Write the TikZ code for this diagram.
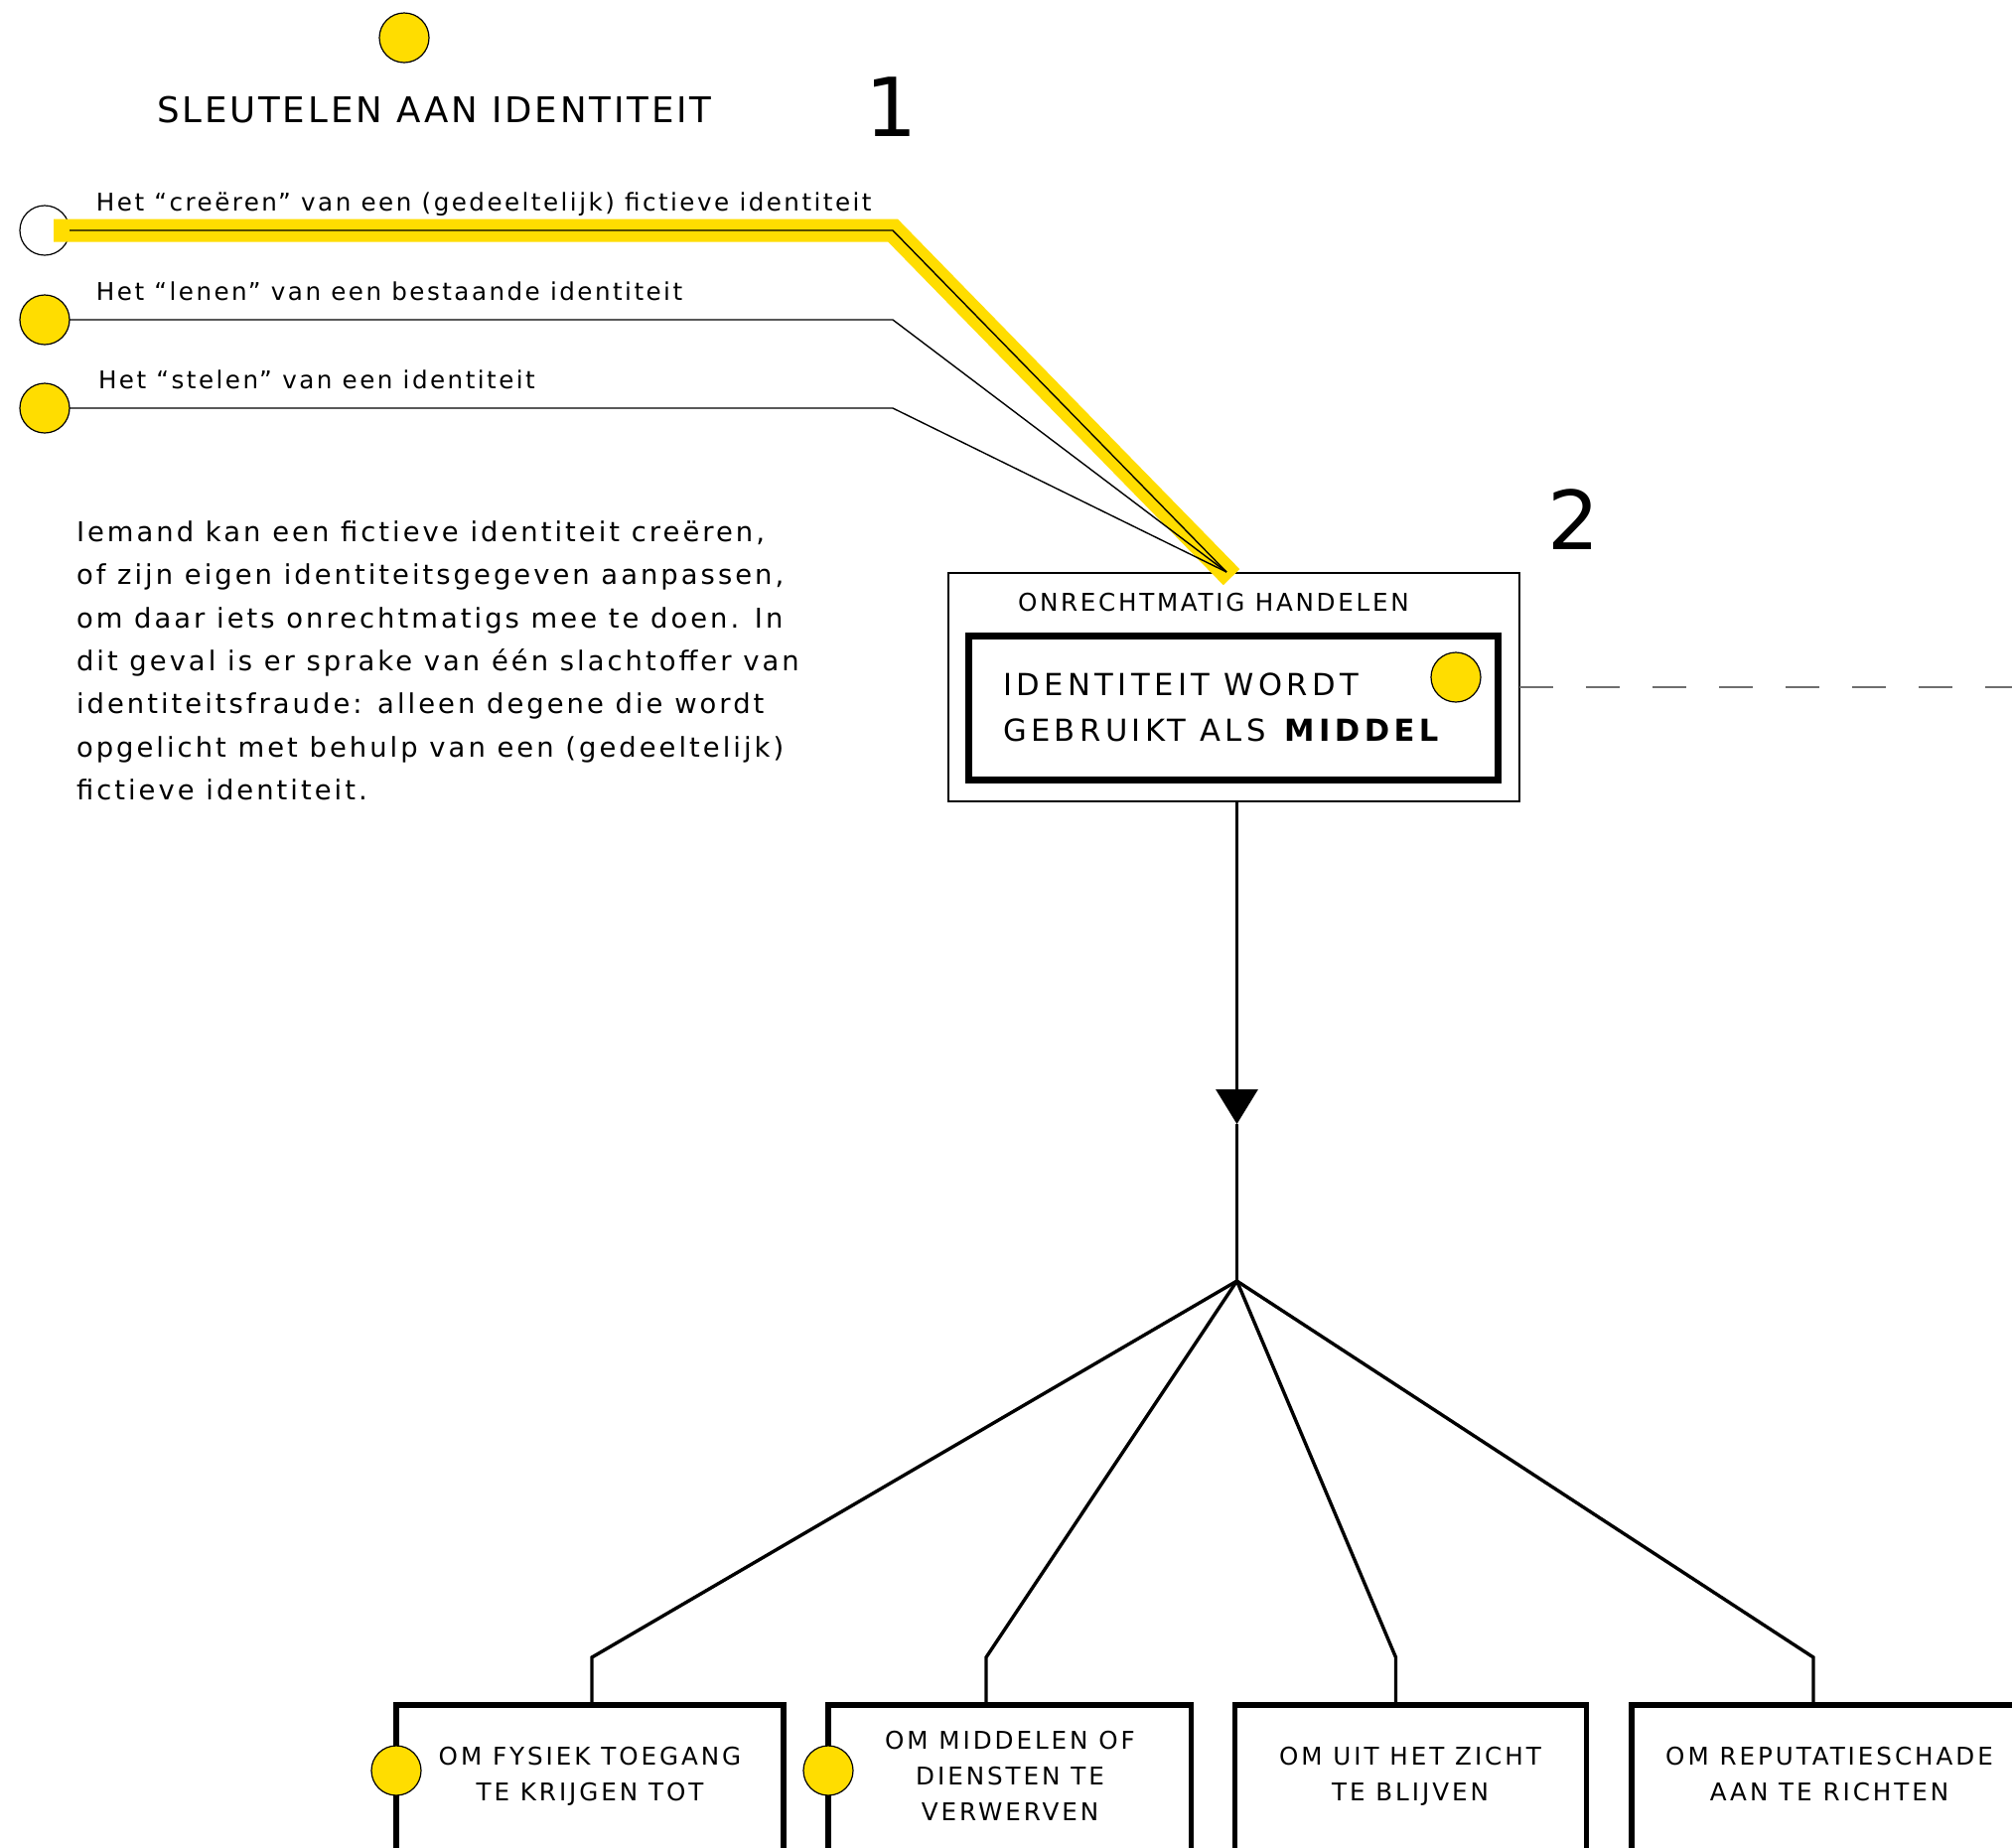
\documentclass[tikz,border=0pt]{standalone}
\usepackage{fontspec}
\setmainfont{DejaVu Sans}[LetterSpace=11]
\newfontfamily\numfont{DejaVu Sans}
\newfontfamily\ttlfont{DejaVu Sans}[LetterSpace=8]
\newfontfamily\lblfam{DejaVu Sans}[LetterSpace=10]
\newfontfamily\midfam{DejaVu Sans}[LetterSpace=14.5]
\newfontfamily\boxfam{DejaVu Sans}[LetterSpace=12]
\usetikzlibrary{arrows.meta,calc}
\definecolor{ylw}{HTML}{FFDD00}
\definecolor{dashgray}{HTML}{6E6E6E}
\tikzset{
 dot/.style={circle,draw=black,line width=0.6pt,fill=ylw,minimum size=25pt,inner sep=0pt,outer sep=0pt},
 opendot/.style={dot,fill=white},
 thinln/.style={line width=0.7pt},
 branch/.style={line width=1.7pt},
 txt/.style={inner sep=0pt,outer sep=0pt,anchor=base west},
 ctxt/.style={inner sep=0pt,outer sep=0pt,anchor=base},
 lblfont/.style={font=\lblfam\fontsize{12.3}{15}\selectfont},
 parfont/.style={font=\fontsize{13.7}{16}\selectfont},
 onrfont/.style={font=\fontsize{12.3}{15}\selectfont},
 boxfont/.style={font=\boxfam\fontsize{12.3}{15}\selectfont},
 bigfont/.style={font=\midfam\fontsize{15.3}{19}\selectfont},
 titlefont/.style={font=\ttlfont\fontsize{17.8}{21}\selectfont},
 numstyle/.style={font=\numfont\fontsize{41}{45}\selectfont},
 outerbox/.style={draw,line width=0.75pt,inner sep=0pt,outer sep=0pt,minimum width=287.5pt,minimum height=115pt},
 innerbox/.style={draw,line width=3.25pt,inner sep=0pt,outer sep=0pt,minimum width=266.5pt,minimum height=72.5pt},
 goalbox/.style={draw,line width=2.9pt,inner sep=0pt,outer sep=0pt,minimum height=150pt},
}
\begin{document}
\begin{tikzpicture}[x=0.5pt,y=-0.5pt]
\useasboundingbox (0,0) rectangle (2026,1860);
\clip (0,0) rectangle (2026,1860);

% header
\node[dot] (topdot) at (407,38) {};
\node[txt,titlefont] (title) at (158,123) {SLEUTELEN AAN IDENTITEIT};
\node[txt,numstyle] (num1) at (871,137) {1};
\node[txt,numstyle] (num2) at (1558,553) {2};

% central boxes
\node[outerbox] (outer) at (1242.5,692) {};
\node[innerbox] (inner) at (1242,713) {};
\node[txt,onrfont] (onr) at (1025,615) {ONRECHTMATIG HANDELEN};
\node[txt,bigfont] (mid1) at (1010,700) {IDENTITEIT WORDT};
\node[txt,bigfont] (mid2) at (1010,746) {GEBRUIKT ALS \textbf{MIDDEL}};
\node[dot] (middot) at (1466,682) {};

% three ways
\coordinate (apex) at (1235,576);
\coordinate (k1) at (899,232);
\coordinate (k2) at (899,322);
\coordinate (k3) at (899,411);
\coordinate (y0) at (54,232);
\node[opendot] (c1) at (45,232) {};
\node[dot] (c2) at (45,322) {};
\node[dot] (c3) at (45,411) {};
\draw[ylw,line width=11.5pt,line join=miter] (y0) -- (k1) -- ($(k1)!1.015!(apex)$);
\draw[thinln] (c1.east) -- (k1) -- (apex);
\draw[thinln] (c2.east) -- (k2) -- (apex);
\draw[thinln] (c3.east) -- (k3) -- (apex);
\node[txt,lblfont] (l1) at (97,212) {Het “creëren” van een (gedeeltelijk) fictieve identiteit};
\node[txt,lblfont] (l2) at (97,302) {Het “lenen” van een bestaande identiteit};
\node[txt,lblfont] (l3) at (99,391) {Het “stelen” van een identiteit};

% paragraph
\node[txt,parfont] (p1) at (77,545.5) {Iemand kan een fictieve identiteit creëren,};
\node[txt,parfont] (p2) at (77,588.8) {of zijn eigen identiteitsgegeven aanpassen,};
\node[txt,parfont] (p3) at (77,632.2) {om daar iets onrechtmatigs mee te doen. In};
\node[txt,parfont] (p4) at (77,675.5) {dit geval is er sprake van één slachtoffer van};
\node[txt,parfont] (p5) at (77,718.8) {identiteitsfraude: alleen degene die wordt};
\node[txt,parfont] (p6) at (77,762.2) {opgelicht met behulp van een (gedeeltelijk)};
\node[txt,parfont] (p7) at (77,805.5) {fictieve identiteit.};

% dashed link
\coordinate (dashend) at (2030,692);
\draw[dashgray,line width=1pt,dash pattern=on 16.75pt off 16.75pt] (outer.east) -- (dashend);

% goal boxes
\node[goalbox,minimum width=195pt] (g1) at (594,1867) {};
\node[goalbox,minimum width=182.75pt] (g2) at (1016.75,1867) {};
\node[goalbox,minimum width=177pt] (g3) at (1420.5,1867) {};
\node[goalbox,minimum width=199pt] (g4) at (1842,1867) {};
\node[dot] (gd1) at (399,1783) {};
\node[dot] (gd2) at (834,1783) {};
\node[ctxt,boxfont] (g1a) at (594,1777) {OM FYSIEK TOEGANG};
\node[ctxt,boxfont] (g1b) at (594,1813) {TE KRIJGEN TOT};
\node[ctxt,boxfont] (g2a) at (1017,1761) {OM MIDDELEN OF};
\node[ctxt,boxfont] (g2b) at (1017,1797) {DIENSTEN TE};
\node[ctxt,boxfont] (g2c) at (1017,1833) {VERWERVEN};
\node[ctxt,boxfont] (g3a) at (1420,1777) {OM UIT HET ZICHT};
\node[ctxt,boxfont] (g3b) at (1420,1813) {TE BLIJVEN};
\node[ctxt,boxfont] (g4a) at (1842,1777) {OM REPUTATIESCHADE};
\node[ctxt,boxfont] (g4b) at (1842,1813) {AAN TE RICHTEN};

% tree
\coordinate (hub) at (1245.5,1290);
\coordinate (tip) at (1245.5,1132);
\coordinate (b1) at (596,1669);
\coordinate (b2) at (993,1669);
\coordinate (b3) at (1405.5,1669);
\coordinate (b4) at (1826,1669);
\draw[branch,-{Triangle[length=17.5pt,width=21pt]}] (hub |- outer.south) -- (tip);
\draw[branch] (tip) -- (hub);
\draw[branch] (hub) -- (b1) -- (b1 |- g1.north);
\draw[branch] (hub) -- (b2) -- (b2 |- g2.north);
\draw[branch] (hub) -- (b3) -- (b3 |- g3.north);
\draw[branch] (hub) -- (b4) -- (b4 |- g4.north);
\end{tikzpicture}
\end{document}
